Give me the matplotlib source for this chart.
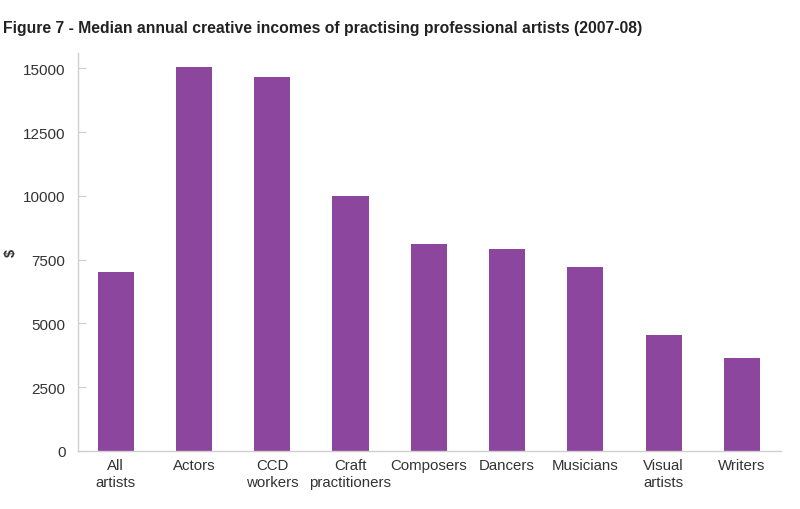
import matplotlib
matplotlib.use("Agg")
import matplotlib.pyplot as plt
import numpy as np

# ── Data ──────────────────────────────────────────────────────────────────────

CATEGORIES = ["All\nartists", "Actors", "CCD\nworkers", "Craft\npractitioners",
              "Composers", "Dancers", "Musicians", "Visual\nartists", "Writers"]
INCOMES = [7000, 15050, 14650, 10000, 8100, 7900, 7200, 4550, 3650]
Y_TICKS = [0, 2500, 5000, 7500, 10000, 12500, 15000]

TITLE = "Figure 7 - Median annual creative incomes of practising professional artists (2007-08)"
BAR_COLOR = "#8c469e"
SPINE_COLOR = "#cfcfcf"
TEXT_COLOR = "#333333"

plt.rcParams['font.family'] = ['Liberation Sans', 'DejaVu Sans']

# ── Drawing ───────────────────────────────────────────────────────────────────

fig = plt.figure(figsize=(8, 5.1), dpi=100, facecolor="white")
ax = fig.add_axes([0.0975, 0.114, 0.879, 0.78])

x = np.arange(len(CATEGORIES))
ax.bar(x, INCOMES, width=0.46, color=BAR_COLOR)

ax.set_xlim(-0.48, 8.5)
ax.set_ylim(0, 15600)
ax.set_yticks(Y_TICKS)
ax.set_yticklabels([str(t) for t in Y_TICKS], fontsize=11, color=TEXT_COLOR)
ax.set_xticks(x)
ax.set_xticklabels(CATEGORIES, fontsize=10.8, color=TEXT_COLOR, linespacing=1.25)
ax.tick_params(axis='x', length=0, pad=5)
ax.tick_params(axis='y', direction='in', length=6, color=SPINE_COLOR, pad=9)

for side in ("top", "right"):
    ax.spines[side].set_visible(False)
for side in ("left", "bottom"):
    ax.spines[side].set_color(SPINE_COLOR)
    ax.spines[side].set_linewidth(1.0)

ax.set_ylabel("$", fontsize=10.5, color=TEXT_COLOR, fontweight='bold')
ax.yaxis.set_label_coords(-0.085, 0.5)

fig.text(0.004, 0.945, TITLE, fontsize=11.35, fontweight='bold',
         color="#222222", ha='left', va='center')

fig.savefig("out.png", dpi=100, facecolor=fig.get_facecolor())
plt.close(fig)
